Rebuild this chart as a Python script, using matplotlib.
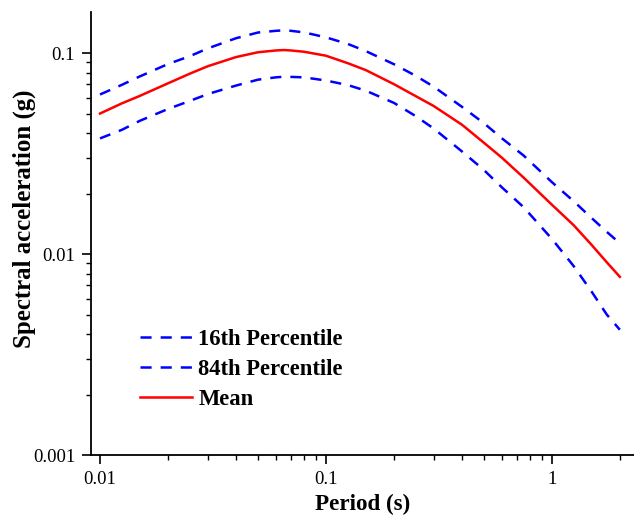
import matplotlib
matplotlib.use("Agg")
import matplotlib.pyplot as plt
from matplotlib.ticker import LogLocator, FixedLocator, NullFormatter

plt.rcParams['font.family'] = ['Liberation Serif', 'DejaVu Serif']
plt.rcParams['lines.scale_dashes'] = False

# values
period = [0.01, 0.0125, 0.015, 0.02, 0.025, 0.03, 0.04, 0.05, 0.06, 0.065, 0.07, 0.08, 0.1,
          0.125, 0.15, 0.2, 0.25, 0.3, 0.4, 0.5, 0.6, 0.75, 1.0, 1.25, 1.5, 1.75, 2.0]
sa_mean = [0.050, 0.0562, 0.0612, 0.0707, 0.079, 0.086, 0.0955, 0.1009, 0.1030, 0.1035, 0.1030,
           0.1015, 0.097, 0.089, 0.0823, 0.070, 0.061, 0.0545, 0.0440, 0.0358, 0.0302, 0.0240,
           0.0176, 0.0139, 0.0111, 0.0091, 0.0077]
sa_p84 = [0.0622, 0.0695, 0.0765, 0.0882, 0.0965, 0.1055, 0.1185, 0.1265, 0.129, 0.1297, 0.129,
          0.1267, 0.1197, 0.111, 0.1023, 0.088, 0.077, 0.068, 0.054, 0.0448, 0.0377, 0.0309,
          0.0228, 0.0183, 0.0151, 0.0129, 0.0113]
sa_p16 = [0.0376, 0.0415, 0.0460, 0.0527, 0.0578, 0.0625, 0.0689, 0.0737, 0.0757, 0.0762, 0.0761,
          0.0757, 0.073, 0.0693, 0.065, 0.0565, 0.0485, 0.0421, 0.0324, 0.0262, 0.0215, 0.0171,
          0.0119, 0.0087, 0.0065, 0.0050, 0.0042]

fig = plt.figure(figsize=(6.34, 5.16), dpi=100)
ax = fig.add_axes([0.1435, 0.1182, 0.8565, 0.8585])

dash = (0, (8, 6.5))
ax.plot(period, sa_p16, color='#0000ff', lw=1.8, linestyle=dash, label='16th Percentile')
ax.plot(period, sa_p84, color='#0000ff', lw=1.8, linestyle=dash, label='84th Percentile')
ax.plot(period, sa_mean, color='#ff0000', lw=1.8, label='Mean')

ax.set_xscale('log')
ax.set_yscale('log')
ax.set_xlim(0.00912, 2.31)
ax.set_ylim(0.001, 0.16)

ax.xaxis.set_major_locator(FixedLocator([0.01, 0.1, 1]))
ax.xaxis.set_minor_locator(LogLocator(base=10, subs=range(2, 10)))
ax.xaxis.set_minor_formatter(NullFormatter())
ax.set_xticklabels(['0.01', '0.1', '1'])
ax.yaxis.set_major_locator(FixedLocator([0.001, 0.01, 0.1]))
ax.yaxis.set_minor_locator(LogLocator(base=10, subs=range(2, 10)))
ax.yaxis.set_minor_formatter(NullFormatter())
ax.set_yticklabels(['0.001', '0.01', '0.1'])

for s in ['top', 'right']:
    ax.spines[s].set_visible(False)
for s in ['left', 'bottom']:
    ax.spines[s].set_linewidth(1.3)
ax.tick_params(which='major', direction='out', length=6.5, width=1.2, labelsize=13.5, pad=5)
ax.tick_params(which='minor', direction='out', length=3.6, width=1.0)

ax.set_xlabel('Period (s)', fontsize=16.6, fontweight='bold', labelpad=4)
ax.set_ylabel('Spectral acceleration (g)', fontsize=17.9, fontweight='bold')
ax.yaxis.set_label_coords(-0.101, 0.534)

leg = ax.legend(loc='upper left', bbox_to_anchor=(0.053, 0.33), frameon=False,
                prop={'weight': 'bold', 'size': 16.3}, handlelength=2.3,
                handletextpad=0.27, labelspacing=0.4)

fig.savefig('out.png', dpi=100)
